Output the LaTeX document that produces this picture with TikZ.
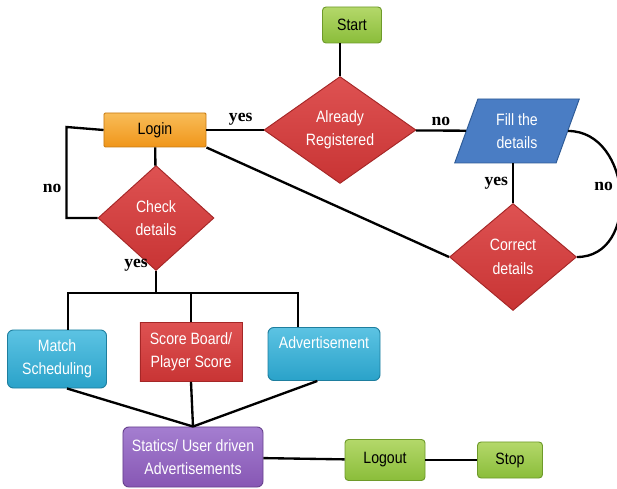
\documentclass[tikz,border=0pt]{standalone}
\usepackage{fontspec}
\setmainfont{Liberation Sans}
\newfontfamily\boxfont{Liberation Sans}[FakeStretch=0.86]
\newfontfamily\lblfont{Liberation Serif}
\usetikzlibrary{shapes.geometric}
\definecolor{greenbase}{HTML}{8ABD3A}
\definecolor{greenlight}{HTML}{B4D86A}
\definecolor{greendark}{HTML}{6E9A2A}
\definecolor{orangebase}{HTML}{F0961A}
\definecolor{orangelight}{HTML}{F8BC58}
\definecolor{orangedark}{HTML}{C77A12}
\definecolor{redbase}{HTML}{C83434}
\definecolor{redlight}{HTML}{DE5252}
\definecolor{reddark}{HTML}{A52727}
\definecolor{bluebase}{HTML}{4A7DC4}
\definecolor{bluedark}{HTML}{2E5A95}
\definecolor{cyanbase}{HTML}{2AA2C9}
\definecolor{cyanlight}{HTML}{5CC3E3}
\definecolor{cyandark}{HTML}{1E7E9E}
\definecolor{purplebase}{HTML}{8757B4}
\definecolor{purplelight}{HTML}{A47ED0}
\definecolor{purpledark}{HTML}{66408C}
\tikzset{
  box/.style={draw, line width=0.8pt, inner sep=1pt, align=center,
    font=\boxfont\fontsize{14}{20}\selectfont},
  greenbox/.style={box, rounded corners=3pt, draw=greendark,
    top color=greenlight, bottom color=greenbase, text=black},
  loginbox/.style={box, rounded corners=1pt, draw=orangedark,
    top color=orangelight, bottom color=orangebase, text=black},
  decision/.style={box, diamond, inner sep=0pt, draw=reddark,
    top color=redlight, bottom color=redbase, text=white},
  inputbox/.style={box, trapezium, trapezium left angle=71,
    trapezium right angle=109, trapezium stretches=true,
    draw=bluedark, fill=bluebase, text=white},
  cyanbox/.style={box, rounded corners=5pt, draw=cyandark,
    top color=cyanlight, bottom color=cyanbase, text=white},
  scorebox/.style={box, draw=reddark, top color=redlight,
    bottom color=redbase, text=white},
  purplebox/.style={box, rounded corners=5pt, draw=purpledark,
    top color=purplelight, bottom color=purplebase, text=white},
  link/.style={line width=2pt, black},
  lbl/.style={font=\lblfont\bfseries\fontsize{15}{15}\selectfont}
}
\begin{document}
\begin{tikzpicture}[x=0.03cm, y=-0.03cm]
    \useasboundingbox (0,0) rectangle (617,489);
    % Start and first question
    \node[greenbox, minimum width=1.77cm, minimum height=1.08cm] (start) at (352,25) {Start};
    \node[decision, minimum width=4.56cm, minimum height=3.18cm] (already) at (340,130) {Already\\Registered};
    \node[loginbox, minimum width=3.06cm, minimum height=1.02cm] (login) at (155,130) {Login};
    \node[inputbox, minimum width=3.75cm, minimum height=1.92cm] (fill) at (517,131) {Fill the\\details};
    % Checks
    \node[decision, minimum width=3.48cm, minimum height=3.15cm] (check) at (156,218) {Check\\details};
    \node[decision, minimum width=3.81cm, minimum height=3.21cm] (correct) at (513,257) {Correct\\details};
    % Modules
    \node[cyanbox, minimum width=2.97cm, minimum height=1.74cm] (match) at (57,359) {Match\\Scheduling};
    \node[scorebox, minimum width=3.06cm, minimum height=1.77cm] (score) at (191,352) {Score Board/\\Player Score};
    \node[cyanbox, minimum width=3.36cm, minimum height=1.59cm] (advert) at (324,354) {Advertisement\\\mbox{}};
    \node[purplebox, minimum width=4.2cm, minimum height=1.8cm] (statics) at (193,457) {Statics/ User driven\\Advertisements};
    % End
    \node[greenbox, minimum width=2.4cm, minimum height=1.23cm] (logout) at (385,460) {Logout};
    \node[greenbox, minimum width=1.95cm, minimum height=1.08cm] (stop) at (510,460) {Stop};
    \coordinate (bus) at (156,293);

    % Connectors on top
    \draw[link] (already.north |- start.south) -- (already.north);
    \draw[link] (login) -- node[lbl, above, pos=0.6] (yes1) {yes} (already);
    \draw[link] (already) -- node[lbl, above] (no1) {no} (fill);
    \draw[link] (login) -- (check);
    \draw[link] (check.west) -- ++(-31,0) -- node[lbl, left, pos=0.33] (no2) {no} ++(0,-91) -- (login.west);
    \draw[link] (login.south east) -- (correct.west);
    \draw[link] (correct.north |- fill.south) -- node[lbl, left] (yes2) {yes} (correct.north);
    \draw[link] (fill.east) to[out=0, in=0, looseness=1.3] (correct.east);
    \node[lbl, anchor=east] (no3) at (617,186) {no};
    % Branches to modules
    \draw[link] (check.south) -- (bus);
    \node[lbl] (yes3) at (136,265) {yes};
    \draw[link] ([xshift=0.33cm]match.north) |- (bus) -| ([xshift=-0.78cm]advert.north);
    \draw[link] (score.north) -- (score.north |- bus);
    \draw[link] ([xshift=0.3cm]match.south) -- (statics.north);
    \draw[link] (score.south) -- (statics.north);
    \draw[link] ([xshift=-0.2cm]advert.south) -- (statics.north);
    \draw[link] (statics) -- (logout);
    \draw[link] (logout) -- (stop);
\end{tikzpicture}
\end{document}
